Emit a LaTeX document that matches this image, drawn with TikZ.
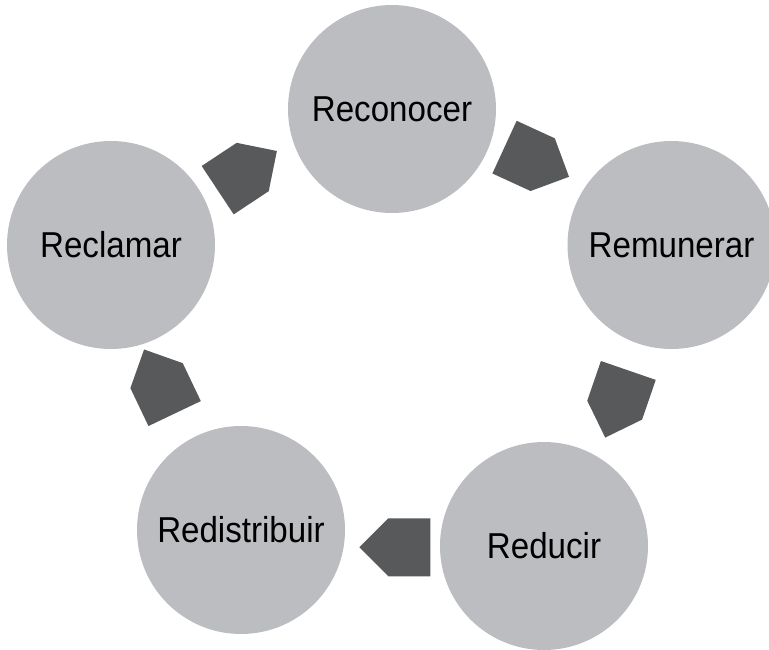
\documentclass[tikz,border=0pt]{standalone}
\usepackage{fontspec}
\setmainfont{Liberation Sans}[FakeStretch=0.92]
\usetikzlibrary{shapes.symbols}
\definecolor{circlegray}{RGB}{188,189,192}
\definecolor{arrowgray}{RGB}{88,89,91}

\begin{document}
\begin{tikzpicture}[
  x=1pt, y=-1pt,
  stage/.style={
    circle,
    fill=circlegray,
    minimum size=208pt,
    inner sep=0pt,
    font=\fontsize{36}{42}\selectfont
  },
  cyclearrow/.style={
    signal,
    signal to=east,
    signal pointer angle=90,
    fill=arrowgray,
    minimum width=71pt,
    minimum height=58pt,
    inner sep=0pt
  }
]
\useasboundingbox (0,0) rectangle (769,650);
% stages of the cycle
\node[stage] (reconocer)    at (392,109)   {Reconocer};
\node[stage] (remunerar)    at (671.5,245) {Remunerar};
\node[stage] (reducir)      at (544,546)   {Reducir};
\node[stage] (redistribuir) at (241,530)   {Redistribuir};
\node[stage] (reclamar)     at (111,245)   {Reclamar};
% arrows between the stages
\node[cyclearrow, rotate=33.5]  (reclamar-reconocer)    at (235.2,178.6) {};
\node[cyclearrow, rotate=-24.7] (reconocer-remunerar)   at (523.6,155.9) {};
\node[cyclearrow, rotate=-109]  (remunerar-reducir)     at (621.5,390.3) {};
\node[cyclearrow, rotate=180]   (reducir-redistribuir)  at (409.4,547.3) {};
\node[cyclearrow, rotate=115.5] (redistribuir-reclamar) at (165.6,394.6) {};
\end{tikzpicture}
\end{document}
